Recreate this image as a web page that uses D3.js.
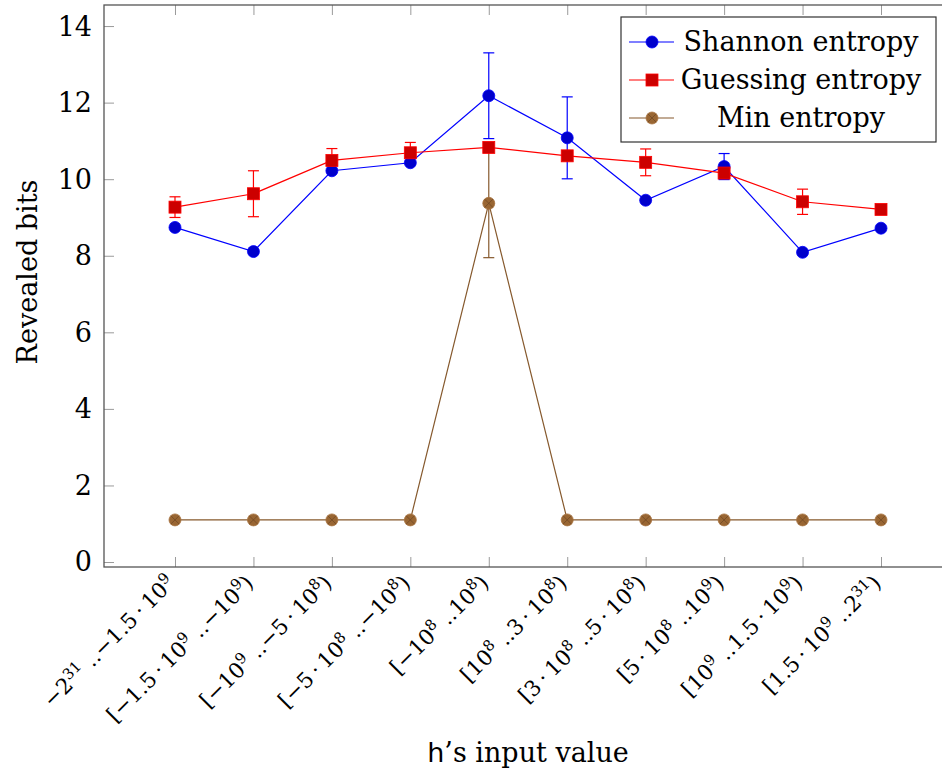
<!DOCTYPE html>
<html>
<head>
<meta charset="utf-8">
<script src="https://cdn.jsdelivr.net/npm/d3@7"></script>
<style>
    body { margin: 0; background: #fff; }
    text { font-family: "DejaVu Serif", serif; fill: #000; }
</style>
</head>
<body>
<div id="chart"></div>
<script>
// x categories (h's input ranges), ^{...} marks a superscript
const categories = [
    '−2^{31} ..−1.5\u2009·\u200910^{9}',
    '[−1.5\u2009·\u200910^{9} ..−10^{9})',
    '[−10^{9} ..−5\u2009·\u200910^{8})',
    '[−5\u2009·\u200910^{8} ..−10^{8})',
    '[−10^{8} ..10^{8})',
    '[10^{8} ..3\u2009·\u200910^{8})',
    '[3\u2009·\u200910^{8} ..5\u2009·\u200910^{8})',
    '[5\u2009·\u200910^{8} ..10^{9})',
    '[10^{9} ..1.5\u2009·\u200910^{9})',
    '[1.5\u2009·\u200910^{9} ..2^{31})'
];

const shannon = [8.74, 8.11, 10.22, 10.43, 12.18, 11.08, 9.45, 10.33, 8.09, 8.72];
const shannonErr = [0, 0, 0, 0, 1.12, 1.07, 0, 0.34, 0, 0];

const guessing = [9.27, 9.62, 10.49, 10.69, 10.83, 10.61, 10.44, 10.16, 9.41, 9.21];
const guessingErr = [0.27, 0.6, 0.31, 0.27, 0, 0, 0.35, 0, 0.33, 0];

const minEntropy = [1.1, 1.1, 1.1, 1.1, 9.37, 1.1, 1.1, 1.1, 1.1, 1.1];
const minEntropyErr = [0, 0, 0, 0, 1.42, 0, 0, 0, 0, 0];

const yTicks = [0, 2, 4, 6, 8, 10, 12, 14];

const width = 942;
const height = 774;
const area = { left: 104, right: 952, top: 5, bottom: 567 };

const series = [
    { name: 'Shannon entropy', values: shannon, err: shannonErr, line: '#0000ff', fill: '#0000cc', mark: 'circle' },
    { name: 'Guessing entropy', values: guessing, err: guessingErr, line: '#ff0000', fill: '#cc0000', mark: 'square' },
    { name: 'Min entropy', values: minEntropy, err: minEntropyErr, line: '#86592d', fill: '#996633', mark: 'otimes' }
];

const svg = d3.select('#chart')
    .append('svg')
    .attr('width', width)
    .attr('height', height);

svg.append('rect').attr('width', width).attr('height', height).attr('fill', '#fff');

const xScale = d3.scaleLinear().domain([-0.905, 9.905]).range([area.left, area.right]);
const yScale = d3.scaleLinear().domain([-0.13, 14.55]).range([area.bottom, area.top]);

// ticks (inward, on all four sides)
const tickColor = '#9a9a9a';
svg.append('g')
    .attr('transform', `translate(${area.left},0)`)
    .call(d3.axisRight(yScale).tickValues(yTicks).tickSize(10).tickFormat(''))
    .call((g) => g.select('.domain').remove())
    .call((g) => g.selectAll('line').attr('stroke', tickColor));
svg.append('g')
    .attr('transform', `translate(${area.right},0)`)
    .call(d3.axisLeft(yScale).tickValues(yTicks).tickSize(10).tickFormat(''))
    .call((g) => g.select('.domain').remove())
    .call((g) => g.selectAll('line').attr('stroke', tickColor));
svg.append('g')
    .attr('transform', `translate(0,${area.bottom})`)
    .call(d3.axisTop(xScale).tickValues(d3.range(categories.length)).tickSize(10).tickFormat(''))
    .call((g) => g.select('.domain').remove())
    .call((g) => g.selectAll('line').attr('stroke', tickColor));
svg.append('g')
    .attr('transform', `translate(0,${area.top})`)
    .call(d3.axisBottom(xScale).tickValues(d3.range(categories.length)).tickSize(10).tickFormat(''))
    .call((g) => g.select('.domain').remove())
    .call((g) => g.selectAll('line').attr('stroke', tickColor));

// frame
svg.append('rect')
    .attr('x', area.left)
    .attr('y', area.top)
    .attr('width', area.right - area.left)
    .attr('height', area.bottom - area.top)
    .attr('fill', 'none')
    .attr('stroke', '#555')
    .attr('stroke-width', 1.3);

// y tick labels
svg.append('g')
    .selectAll('text')
    .data(yTicks)
    .join('text')
    .attr('x', 92)
    .attr('y', (d) => yScale(d))
    .attr('dy', '0.35em')
    .attr('text-anchor', 'end')
    .style('font-size', '27px')
    .text((d) => d);

// x tick labels, rotated
function addMath(text, str, size) {
    const parts = str.split(/\^\{([^}]*)\}/);
    let shifted = false;
    parts.forEach((p, i) => {
        if (!p) return;
        const t = text.append('tspan').text(p);
        if (i % 2 === 1) {
            t.style('font-size', (size * 0.7) + 'px').attr('dy', shifted ? 0 : -8);
            shifted = true;
        } else if (shifted) {
            t.attr('dy', 8);
            shifted = false;
        }
    });
}

svg.append('g')
    .selectAll('g')
    .data(categories)
    .join('g')
    .attr('transform', (d, i) => `translate(${xScale(i) - 4},${area.bottom + 12}) rotate(-45)`)
    .each(function (d) {
        const t = d3.select(this).append('text')
            .attr('text-anchor', 'end')
            .attr('dy', '0.35em')
            .style('font-size', '21.5px');
        addMath(t, d, 21.5);
    });

// axis titles
svg.append('text')
    .attr('x', (area.left + area.right) / 2)
    .attr('y', 762)
    .attr('text-anchor', 'middle')
    .style('font-size', '27px')
    .call((t) => {
        t.append('tspan').style('font-family', '"DejaVu Sans", sans-serif').text('h');
        t.append('tspan').text('’s input value');
    });

svg.append('text')
    .attr('transform', 'translate(37,272) rotate(-90)')
    .attr('text-anchor', 'middle')
    .style('font-size', '27px')
    .text('Revealed bits');

// lines and error bars
const line = d3.line().x((d, i) => xScale(i)).y((d) => yScale(d));

series.forEach((s) => {
    svg.append('path')
        .attr('d', line(s.values))
        .attr('fill', 'none')
        .attr('stroke', s.line)
        .attr('stroke-width', 1.2);

    const bars = s.values.map((v, i) => ({ i, v, e: s.err[i] })).filter((d) => d.e > 0);
    const eg = svg.append('g').attr('stroke', s.line).attr('stroke-width', 1.2);
    bars.forEach((d) => {
        const x = xScale(d.i);
        eg.append('line').attr('x1', x).attr('x2', x).attr('y1', yScale(d.v - d.e)).attr('y2', yScale(d.v + d.e));
        [d.v - d.e, d.v + d.e].forEach((y) => {
            eg.append('line').attr('x1', x - 5.5).attr('x2', x + 5.5).attr('y1', yScale(y)).attr('y2', yScale(y));
        });
    });
});

function drawMark(g, s, x, y) {
    if (s.mark === 'circle') {
        g.append('circle').attr('cx', x).attr('cy', y).attr('r', 6)
            .attr('fill', s.fill).attr('stroke', s.line).attr('stroke-width', 0.8);
    } else if (s.mark === 'square') {
        g.append('rect').attr('x', x - 6).attr('y', y - 6).attr('width', 12).attr('height', 12)
            .attr('fill', s.fill).attr('stroke', s.line).attr('stroke-width', 0.8);
    } else {
        g.append('circle').attr('cx', x).attr('cy', y).attr('r', 6)
            .attr('fill', s.fill).attr('stroke', '#a87440').attr('stroke-width', 0.8);
        const r = 6 * Math.SQRT1_2;
        g.append('path')
            .attr('d', `M${x - r},${y - r}L${x + r},${y + r}M${x - r},${y + r}L${x + r},${y - r}`)
            .attr('stroke', '#6b4522').attr('stroke-width', 0.7);
    }
}

// markers on top
series.forEach((s) => {
    const g = svg.append('g');
    s.values.forEach((v, i) => drawMark(g, s, xScale(i), yScale(v)));
});

// legend
const legend = svg.append('g');
legend.append('rect')
    .attr('x', 621).attr('y', 17).attr('width', 315).attr('height', 125)
    .attr('fill', '#fff').attr('stroke', '#333').attr('stroke-width', 1.2);

series.forEach((s, k) => {
    const y = 42 + k * 38;
    legend.append('line')
        .attr('x1', 629).attr('x2', 674).attr('y1', y).attr('y2', y)
        .attr('stroke', s.line).attr('stroke-width', 1.2);
    drawMark(legend, s, 652, y);
    legend.append('text')
        .attr('x', 801).attr('y', y).attr('dy', '0.35em')
        .attr('text-anchor', 'middle')
        .style('font-size', '27px')
        .text(s.name);
});
</script>
</body>
</html>
